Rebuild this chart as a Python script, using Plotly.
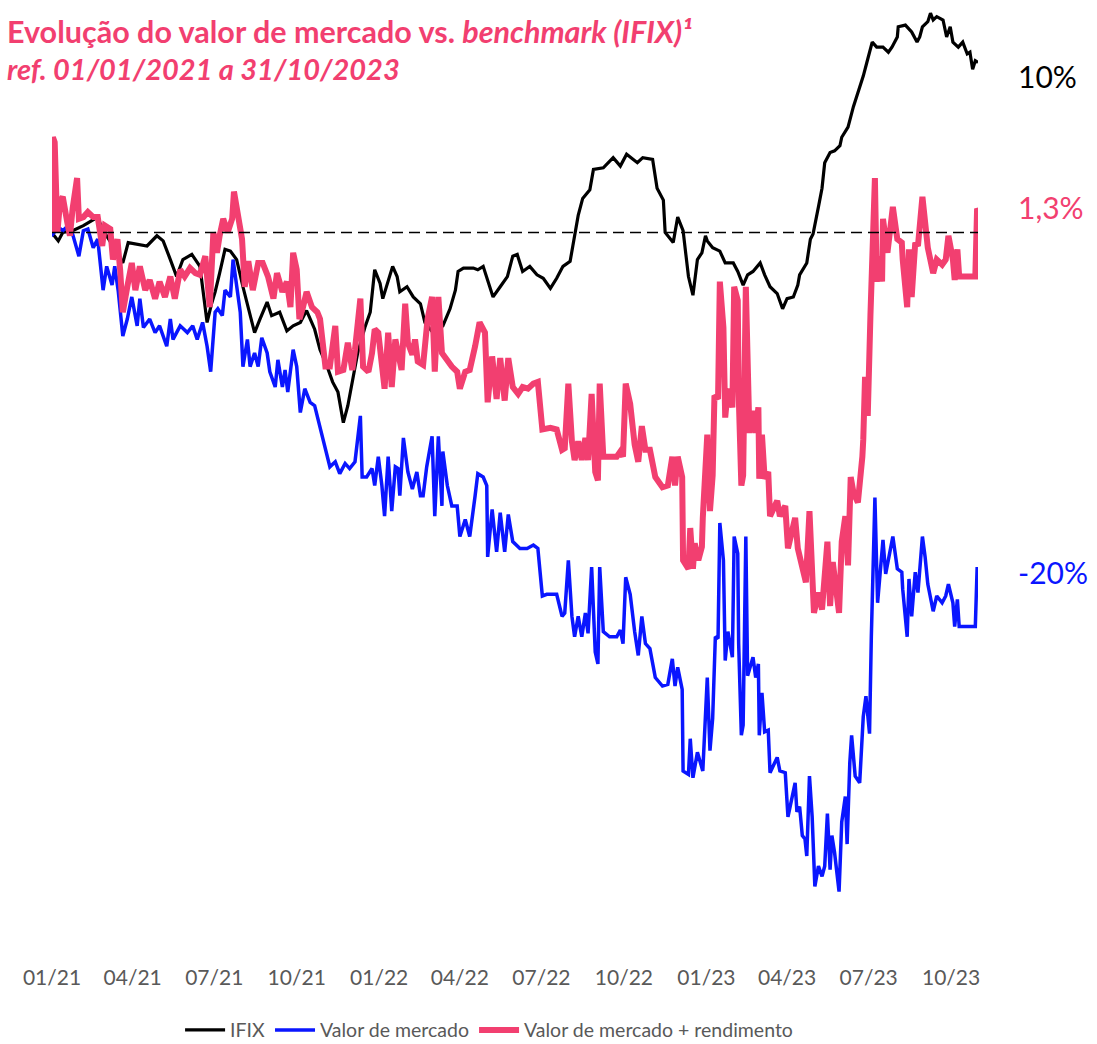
import pandas as pd
import plotly.graph_objects as go

START = pd.Timestamp("2021-01-01")
END = pd.Timestamp("2023-10-31")

# x values: days since 01/01/2021 ; y values: % change since start
IFIX_DAYS = [0,1,7,12,23,35,51,56,67,79,85,95,106,117,124,132,139,146,156,165,
             173,178,182,187,193,199,206,213,221,226,232,240,245,254,262,269,277,284,293,299,
             307,313,319,325,330,336,341,349,355,360,366,369,375,380,385,388,396,403,411,416,
             425,436,444,450,453,459,470,475,481,486,492,500,508,514,519,525,533,541,548,556,
             563,570,578,581,587,592,600,604,615,626,634,641,653,659,670,675,682,684,693,698,
             704,710,715,720,725,729,731,737,745,751,760,765,771,776,782,790,795,801,809,815,
             820,827,832,834,842,846,849,855,859,862,868,873,879,881,888,894,899,905,909,915,
             920,927,933,937,943,944,952,959,965,968,971,977,980,983,987,994,998,1002,1005,1011,
             1016,1021,1024,1027,1030,1033]
IFIX_VALUES = [0,-0.1,-0.5,0,0.1,0.4,0.9,0.2,-0.7,-1.8,-0.6,-0.7,-0.8,-0.2,-0.5,-1.6,-2.6,-1.6,-1.3,-2.0,
               -5.3,-4.2,-3.5,-2.4,-1.0,-1.1,-1.6,-3.2,-4.9,-5.9,-5.1,-4.1,-4.9,-4.7,-5.8,-5.5,-5.3,-4.6,-5.7,-6.9,
               -7.9,-8.8,-9.4,-11.2,-10.2,-8.6,-7.1,-5.6,-4.7,-2.2,-3.0,-3.9,-2.9,-2.0,-2.6,-3.5,-3.2,-3.8,-4.2,-5.3,
               -5.9,-5.5,-4.5,-3.4,-2.3,-2.1,-2.1,-2.2,-2.0,-2.8,-3.8,-3.2,-2.6,-1.4,-1.3,-2.3,-2.0,-2.5,-2.7,-3.3,
               -2.7,-2.0,-1.7,-0.8,1.0,2.0,2.5,3.7,3.8,4.4,3.9,4.6,4.1,4.4,4.3,2.6,1.9,0,-0.6,0.9,
               0.1,-2.6,-3.7,-1.6,-1.2,-0.2,-0.5,-0.9,-1.1,-1.8,-1.8,-2.3,-3.1,-2.5,-2.3,-1.8,-2.5,-3.2,-3.6,-4.5,
               -3.9,-3.8,-3.1,-2.5,-1.8,-0.4,-0.1,1.5,2.6,4.1,4.7,4.8,5.1,5.6,6.2,7.4,8.2,9.2,10.0,11.2,
               10.9,10.9,10.6,10.9,11.5,12.1,12.2,11.8,11.2,11.5,12.1,12.4,12.9,12.5,12.7,12.5,11.5,12.1,11.2,10.9,
               11.2,10.5,10.6,9.6,10.1,10.0]

MKT_DAYS = [0,1,7,12,18,23,30,35,40,46,51,57,61,67,70,74,79,84,89,95,
            98,102,109,115,120,128,132,135,143,151,157,162,168,173,177,182,185,190,193,199,
            202,206,210,213,218,221,226,230,234,240,243,249,252,257,260,263,269,273,277,282,
            288,293,299,305,310,316,321,327,332,338,341,344,346,351,357,360,364,368,371,375,
            379,383,386,388,392,397,402,407,411,414,418,424,427,431,435,436,441,446,452,455,
            461,466,472,475,481,485,486,491,496,500,505,509,514,522,530,537,542,547,552,563,
            569,572,576,580,583,587,591,595,598,602,606,609,611,615,622,630,634,637,640,645,
            650,654,658,662,667,673,681,687,692,695,698,703,704,710,712,715,720,723,726,731,
            734,737,740,743,745,749,751,754,759,761,765,766,769,771,774,776,782,785,788,789,
            792,795,799,801,809,812,818,821,826,829,831,834,837,840,842,845,848,849,851,855,
            859,862,865,868,870,873,876,878,881,885,887,890,892,896,901,905,908,912,914,916,
            918,921,924,927,930,935,938,943,948,949,954,956,959,963,966,971,974,977,983,987,
            993,997,1000,1005,1007,1010,1012,1021,1030,1032,1033]
MKT_VALUES = [0,-0.1,0.3,0.1,0.4,-0.1,-1.4,0.1,0.2,-0.9,-0.4,-3.4,-2.0,-3.1,-2.0,-3.5,-6.1,-5.1,-3.8,-5.5,
              -3.9,-5.6,-5.1,-5.9,-5.5,-6.7,-5.1,-6.3,-5.5,-5.9,-5.5,-6.3,-5.3,-6.7,-8.2,-4.7,-4.5,-4.9,-3.4,-3.8,
              -1.6,-3.2,-4.7,-7.9,-6.3,-7.9,-7.1,-7.9,-6.2,-7.1,-8.2,-9.1,-7.5,-9.1,-8.1,-9.4,-6.9,-7.9,-10.6,-9.2,
              -10.0,-10.2,-11.4,-12.8,-13.8,-13.5,-14.2,-13.6,-13.9,-13.5,-12.2,-10.8,-14.4,-14.4,-13.9,-14.9,-13.2,-14.9,-16.7,-13.2,
              -16.4,-13.8,-13.9,-15.5,-12.1,-14.1,-15.1,-14.1,-15.5,-15.5,-13.8,-12.0,-16.7,-12.0,-16.1,-12.9,-14.9,-16.1,-16.1,-17.9,
              -16.9,-17.9,-15.5,-14.2,-14.4,-14.9,-19.1,-16.3,-18.8,-16.5,-18.8,-16.6,-18.2,-18.6,-18.6,-18.4,-18.6,-21.4,-21.3,-21.3,
              -22.6,-22.4,-19.3,-22.6,-23.8,-22.6,-23.8,-22.4,-23.6,-19.7,-24.7,-25.4,-19.7,-23.5,-23.8,-23.8,-23.4,-24.2,-20.3,-21.3,
              -23.5,-24.9,-22.6,-24.2,-24.5,-26.2,-26.7,-26.6,-25.1,-26.7,-25.6,-26.9,-31.7,-31.9,-29.8,-32.1,-30.6,-31.1,-31.7,-26.2,
              -30.5,-28.6,-23.8,-23.9,-17.1,-19.3,-25.2,-23.5,-25.0,-17.9,-18.9,-24.2,-29.6,-29.0,-17.9,-26.1,-25.0,-26.2,-25.4,-29.6,
              -27.1,-29.4,-29.3,-31.8,-30.9,-31.7,-31.8,-34.4,-33.2,-32.4,-34.1,-33.8,-35.5,-35.7,-36.7,-32.0,-34.4,-36.3,-38.5,-37.3,
              -37.9,-37.3,-34.2,-37.5,-35.5,-36.5,-38.2,-38.8,-34.7,-33.2,-36.0,-31.2,-29.6,-32.0,-32.4,-28.5,-27.3,-29.5,-23.8,-20.2,
              -15.6,-21.8,-20.2,-18.1,-20.1,-18.8,-17.9,-19.8,-20.0,-21.0,-23.8,-20.4,-22.6,-20.0,-21.2,-17.9,-19.1,-20.7,-22.3,-21.4,
              -21.8,-21.4,-20.7,-21.8,-23.2,-21.6,-23.2,-23.2,-23.2,-19.8,-19.8]

TOT_DAYS = [0,1,3,6,9,12,17,20,23,28,30,35,40,46,51,56,59,65,68,73,
            76,79,84,89,93,98,104,109,115,120,126,132,137,143,148,154,160,165,171,174,
            176,180,184,187,191,196,201,203,208,212,215,219,224,230,235,241,247,251,257,262,
            266,269,273,276,280,284,290,296,299,305,310,316,319,325,330,335,338,344,347,353,
            357,360,364,368,371,375,379,383,386,390,394,397,402,405,408,414,419,424,427,431,
            435,441,446,452,455,461,466,472,477,483,486,491,496,500,505,509,514,520,525,531,
            537,542,547,556,563,569,572,576,580,583,587,591,595,598,602,606,609,611,615,622,
            630,634,637,640,645,650,654,658,662,667,673,681,687,692,695,698,703,704,710,712,
            715,717,721,725,726,731,734,737,739,743,745,749,751,754,759,761,765,766,769,771,
            774,778,782,785,788,789,792,795,799,801,809,812,818,821,829,832,837,841,845,848,
            850,855,859,865,868,871,876,878,881,885,888,891,894,899,904,905,907,910,913,915,
            918,920,924,926,927,932,935,938,943,948,949,954,956,959,963,966,971,974,977,983,
            987,993,997,1000,1005,1007,1010,1012,1021,1030,1032,1033]
TOT_VALUES = [0,5.6,5.3,0,1.8,2.1,0.6,-0.2,1.4,3.2,0.8,0.9,1.2,0.9,0.9,-0.8,0.4,0.2,-1.6,-0.4,
              -2.2,-4.7,-3.2,-1.8,-3.4,-2.0,-3.4,-2.8,-3.9,-2.9,-3.8,-2.6,-3.9,-2.2,-2.6,-2.1,-2.4,-2.5,-1.4,-2.8,
              -4.4,0,-1.2,-0.2,0.8,0,0.8,2.4,0.6,-0.4,-3.2,-1.7,-3.4,-1.8,-1.8,-2.6,-3.9,-2.4,-3.5,-2.9,
              -4.4,-1.2,-2.2,-5.1,-4.4,-3.5,-4.4,-4.7,-5.1,-7.9,-7.9,-5.5,-8.2,-8.1,-6.5,-8.1,-6.9,-3.9,-7.9,-8.2,
              -7.1,-5.7,-5.9,-8.2,-9.2,-5.9,-9.1,-6.3,-7.1,-8.1,-4.2,-6.5,-7.2,-6.3,-7.6,-7.8,-5.1,-3.8,-8.2,-3.8,
              -7.1,-7.6,-7.9,-8.2,-9.2,-8.2,-8.1,-6.7,-5.3,-5.9,-10.0,-7.3,-9.8,-7.4,-9.9,-7.4,-9.1,-9.5,-9.1,-9.2,
              -8.9,-8.8,-11.6,-11.5,-11.6,-12.8,-12.7,-8.9,-12.3,-13.4,-12.3,-13.4,-12.1,-13.4,-9.5,-14.1,-14.6,-8.9,-13.2,-13.2,
              -13.2,-12.9,-13.2,-8.9,-10.1,-12.5,-13.5,-11.4,-12.8,-12.8,-14.4,-15.0,-14.9,-13.2,-14.9,-13.2,-14.4,-19.3,-19.8,-17.4,
              -19.8,-18.3,-19.3,-18.5,-16.8,-11.9,-16.4,-14.3,-9.6,-9.8,-2.9,-5.6,-10.9,-9.2,-10.3,-3.2,-4.0,-9.5,-14.9,-14.3,
              -3.2,-11.8,-10.5,-11.8,-10.3,-14.5,-11.9,-14.5,-14.1,-16.7,-15.8,-16.7,-16.1,-18.6,-16.8,-18.6,-19.8,-20.6,-16.4,-19.1,
              -22.4,-21.2,-22.2,-18.2,-22.0,-19.4,-21.2,-22.4,-18.2,-16.7,-19.6,-14.4,-15.3,-15.9,-13.2,-12.2,-8.5,-10.8,-4.9,-1.4,
              3.2,-2.9,-1.4,-2.9,0.8,-1.2,0.1,1.5,-0.4,-0.6,-1.6,-4.4,-1.0,-3.8,-0.6,-0.8,2.1,0.8,-0.9,-2.4,
              -1.6,-1.9,-1.6,-0.2,-1.6,-2.8,-1.0,-2.6,-2.6,-2.6,1.4,1.3]

SERIES_NAMES = ["IFIX", "Valor de mercado", "Valor de mercado + rendimento"]
SERIES_COLORS = ["#000000", "#0A16FF", "#F23F70"]
SERIES_WIDTHS = [3.2, 3.5, 6]
END_LABELS = ["10%", "1,3%", "-20%"]
END_VALUES = [10.0, 1.3, -20.0]
END_COLORS = ["#000000", "#F23F70", "#0A16FF"]
END_YSHIFT = [-14, 3, 0]

TITLE_1 = "<b>Evolução do valor de mercado vs. <i>benchmark (IFIX)¹</i></b>"
TITLE_2 = "<b><i>ref. 01/01/2021 a 31/10/2023</i></b>"


def to_dates(days):
    return START + pd.to_timedelta(days, unit="D")


FONT = "Lato, 'Open Sans', sans-serif"
PINK = SERIES_COLORS[2]

fig = go.Figure()
for name, days, vals, col, w in zip(
        SERIES_NAMES,
        [IFIX_DAYS, MKT_DAYS, TOT_DAYS],
        [IFIX_VALUES, MKT_VALUES, TOT_VALUES],
        SERIES_COLORS, SERIES_WIDTHS):
    fig.add_trace(go.Scatter(x=to_dates(days), y=vals, mode="lines", name=name,
                             line=dict(color=col, width=w), hoverinfo="skip"))

fig.add_shape(type="line", xref="x", yref="y", x0=START, x1=END, y0=0, y1=0,
              line=dict(color="black", width=1.5, dash="11px,6px"), layer="above")

for lab, v, col, ys in zip(END_LABELS, END_VALUES, END_COLORS, END_YSHIFT):
    fig.add_annotation(x=END, y=v, xref="x", yref="y", text=lab, showarrow=False,
                       xanchor="left", yanchor="middle", xshift=38, yshift=ys,
                       font=dict(family=FONT, size=30, color=col))

fig.add_annotation(x=-0.051, y=0.971, xref="paper", yref="paper", text=TITLE_1,
                   showarrow=False, xanchor="left", yanchor="middle",
                   font=dict(family=FONT, size=30.5, color=PINK))
fig.add_annotation(x=-0.051, y=0.932, xref="paper", yref="paper", text=TITLE_2,
                   showarrow=False, xanchor="left", yanchor="middle",
                   font=dict(family=FONT, size=29, color=PINK))

fig.update_layout(
    width=1097, height=1044,
    margin=dict(l=52, r=119, t=3, b=81, autoexpand=False),
    paper_bgcolor="white", plot_bgcolor="white",
    font=dict(family=FONT, color="#595959"),
    showlegend=True,
    legend=dict(orientation="h", x=0.472, xanchor="center", y=-0.07, yanchor="middle",
                font=dict(family=FONT, size=19.5, color="#595959"), itemwidth=40,
                bgcolor="rgba(0,0,0,0)"),
    xaxis=dict(type="date", range=[START, END], tick0="2021-01-01", dtick="M3",
               tickformat="%m/%y", showgrid=False, zeroline=False, showline=False,
               ticks="", tickfont=dict(family=FONT, size=21, color="#595959")),
    yaxis=dict(range=[-43, 13.5], visible=False, showgrid=False, zeroline=False),
)

fig.write_html("out.html", config={"displayModeBar": False},
               post_script="document.body.style.margin='0';document.body.style.overflow='hidden';")
